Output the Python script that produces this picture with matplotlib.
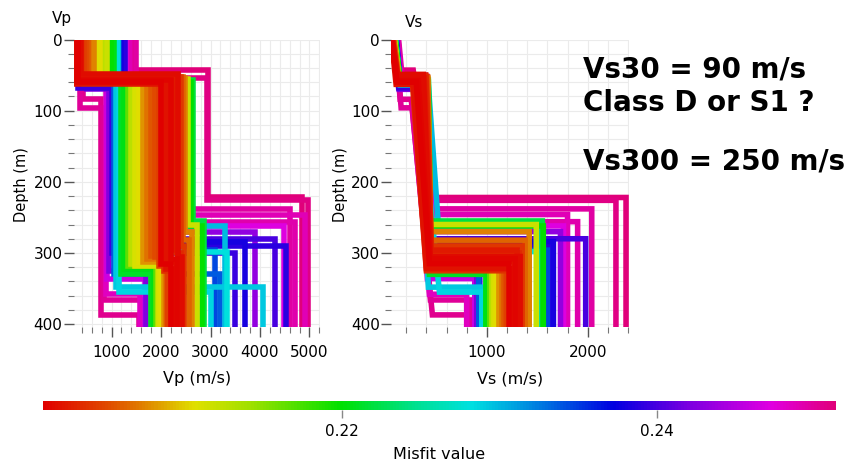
import numpy as np
import matplotlib.pyplot as plt
import matplotlib as mpl
from matplotlib.colors import LinearSegmentedColormap, Normalize
from matplotlib.ticker import MultipleLocator, FixedLocator

# one entry per inverted ground model (layer 1 / layer 2 / half-space)
misfit = [0.2514, 0.2510, 0.2506, 0.2502, 0.2498, 0.2494, 0.2490, 0.2486,
          0.2472, 0.2462, 0.2432, 0.2422, 0.2400, 0.2394, 0.2388, 0.2382,
          0.2345, 0.2338, 0.2298, 0.2292, 0.2286, 0.2280,
          0.2220, 0.2212, 0.2205, 0.2198, 0.2165,
          0.2128, 0.2120, 0.2112, 0.2105,
          0.2080, 0.2074, 0.2068, 0.2062, 0.2056, 0.2050,
          0.2044, 0.2040, 0.2036, 0.2032, 0.2028, 0.2024, 0.2020, 0.2016, 0.2013, 0.2011]
d1 = [43, 54, 84, 96, 52, 50, 57, 64,
      58, 66, 60, 70, 56, 68, 59, 62,
      61, 62, 64, 60, 61, 60,
      57, 59, 58, 60, 57,
      56, 55, 57, 56,
      55, 54, 56, 53, 55, 56,
      55, 52, 58, 50, 61, 54, 63, 49, 57, 60]
d2 = [222, 226, 387, 366, 238, 256, 246, 358,
      262, 336, 270, 326, 280, 300, 290, 284,
      296, 330, 262, 348, 355, 298,
      255, 330, 322, 262, 318,
      315, 260, 318, 312,
      312, 270, 308, 282, 304, 306,
      318, 290, 325, 300, 312, 296, 322, 305, 308, 315]
vp1 = [1450, 1400, 420, 360, 1500, 1380, 1350, 380,
       1300, 460, 1250, 500, 1200, 330, 1280, 1180,
       1150, 450, 1100, 380, 520, 1120,
       1000, 950, 1050, 980, 850,
       800, 900, 720, 760,
       600, 650, 550, 500, 520, 480,
       450, 400, 350, 300, 280, 330, 260, 380, 300, 320]
vp2 = [2950, 2920, 780, 840, 2300, 2350, 2250, 880,
       2200, 900, 2280, 940, 2320, 1000, 2260, 2240,
       2240, 1050, 2200, 1080, 1140, 2260,
       2640, 1200, 1260, 2600, 1330,
       1400, 2540, 1480, 1560,
       1640, 2480, 1720, 2440, 1800, 1880,
       1950, 2400, 2050, 2300, 2150, 2250, 2100, 2350, 2200, 2000]
vp3 = [4850, 4980, 1550, 1620, 4600, 4700, 4920, 1580,
       4480, 1680, 3900, 1700, 4300, 3500, 4520, 3700,
       3100, 3200, 3300, 4060, 3000, 3330,
       2860, 1800, 1850, 2820, 1900,
       1930, 2720, 1960, 2000,
       2050, 2620, 2100, 2560, 2120, 2150,
       2150, 2460, 2200, 2400, 2300, 2350, 2250, 2420, 2320, 2200]
vs0 = [120, 115, 95, 100, 125, 118, 110, 90,
       105, 85, 100, 85, 105, 80, 100, 95,
       95, 85, 95, 85, 90, 95,
       90, 90, 92, 90, 85,
       80, 85, 78, 80,
       75, 78, 72, 75, 72, 70,
       65, 60, 58, 55, 58, 62, 55, 65, 58, 60]
vs1 = [140, 150, 140, 150, 160, 150, 145, 135,
       145, 130, 140, 130, 140, 125, 140, 135,
       135, 130, 140, 130, 135, 140,
       140, 135, 138, 138, 130,
       128, 132, 128, 126,
       125, 128, 122, 125, 120, 120,
       115, 110, 110, 105, 110, 112, 100, 115, 105, 108]
vs2 = [270, 400, 250, 260, 410, 390, 380, 300,
       370, 290, 360, 300, 380, 320, 370, 360,
       360, 330, 420, 300, 320, 380,
       420, 330, 340, 420, 340,
       330, 415, 350, 355,
       360, 410, 370, 415, 375, 365,
       300, 400, 260, 395, 280, 380, 270, 370, 320, 300]
vs2b = [440, 460, 460, 440, 470, 460, 470, 430,
        460, 410, 450, 420, 455, 420, 450, 445,
        445, 430, 520, 420, 530, 450,
        440, 430, 430, 440, 432,
        430, 440, 435, 435,
        435, 440, 440, 445, 440, 438,
        425, 450, 400, 450, 420, 445, 400, 440, 435, 430]
vs3 = [2380, 2280, 820, 850, 2040, 1900, 1800, 800,
       1760, 880, 1730, 900, 1980, 930, 1620, 1660,
       1600, 920, 1520, 960, 950, 1530,
       1550, 1000, 990, 1560, 1030,
       1050, 1490, 1070, 1090,
       1120, 1420, 1150, 1380, 1170, 1190,
       1200, 1350, 1230, 1320, 1270, 1300, 1250, 1330, 1280, 1220]

zbot = 410

cmap = LinearSegmentedColormap.from_list('misfit', [
    (0.00, '#e00000'), (0.08, '#e04a00'), (0.12, '#e07a00'), (0.19, '#e0e000'),
    (0.26, '#a0e000'), (0.375, '#00e000'), (0.47, '#00e090'), (0.54, '#00e0e0'),
    (0.61, '#0090e0'), (0.72, '#0000e0'), (0.82, '#8000e0'), (0.92, '#e000e0'),
    (1.00, '#e0007a')])
norm = Normalize(vmin=0.2010, vmax=0.2514)

fig = plt.figure(figsize=(8.51, 4.66), dpi=100)
ax_vp = fig.add_axes([0.0864, 0.2983, 0.2897, 0.6169])
ax_vs = fig.add_axes([0.4595, 0.2983, 0.2797, 0.6169])
cax = fig.add_axes([0.0505, 0.1202, 0.9318, 0.0193])

# worst models first so the best ones end up on top
order = np.argsort(misfit)[::-1]
for i in order:
    c = cmap(norm(misfit[i]))
    ax_vp.plot([vp1[i], vp1[i], vp2[i], vp2[i], vp3[i], vp3[i]],
               [0, d1[i], d1[i], d2[i], d2[i], zbot],
               color=c, lw=4, solid_joinstyle='miter', solid_capstyle='butt')
    ax_vs.plot([vs0[i], vs1[i], vs2[i], vs2b[i], vs3[i], vs3[i]],
               [0, d1[i], d1[i], d2[i], d2[i], zbot],
               color=c, lw=4, solid_joinstyle='miter', solid_capstyle='butt')

for ax in (ax_vp, ax_vs):
    ax.set_ylim(404, 0)
    ax.yaxis.set_major_locator(MultipleLocator(100))
    ax.yaxis.set_minor_locator(MultipleLocator(20))
    ax.xaxis.set_minor_locator(MultipleLocator(200))
    ax.grid(which='both', color='#ebebeb', lw=0.8)
    ax.set_axisbelow(True)
    for s in ax.spines.values():
        s.set_visible(False)
    ax.tick_params(which='major', direction='out', length=7, width=1,
                   color='#555555', labelsize=11, pad=1)
    ax.tick_params(which='minor', direction='out', length=4, width=0.8,
                   color='#777777')
    ax.tick_params(axis='x', pad=6)

ax_vp.set_xlim(230, 5215)
ax_vp.xaxis.set_major_locator(FixedLocator([1000, 2000, 3000, 4000, 5000]))
ax_vs.set_xlim(50, 2410)
ax_vs.xaxis.set_major_locator(FixedLocator([1000, 2000]))

ax_vp.set_xlabel('Vp (m/s)', fontsize=11.5, labelpad=8)
ax_vs.set_xlabel('Vs (m/s)', fontsize=11.5, labelpad=8)
fig.text(22 / 851, 1 - 185 / 466, 'Depth (m)', rotation=90, ha='center', va='center', fontsize=10.5)
fig.text(340 / 851, 1 - 185 / 466, 'Depth (m)', rotation=90, ha='center', va='center', fontsize=10.5)
fig.text(52 / 851, 1 - 23 / 466, 'Vp', ha='left', va='baseline', fontsize=11)
fig.text(405 / 851, 1 - 27 / 466, 'Vs', ha='left', va='baseline', fontsize=11)

fig.text(583 / 851, 1 - 77 / 466, 'Vs30 = 90 m/s', fontsize=20, fontweight='bold', va='baseline')
fig.text(583 / 851, 1 - 111 / 466, 'Class D or S1 ?', fontsize=20, fontweight='bold', va='baseline')
fig.text(583 / 851, 1 - 169 / 466, 'Vs300 = 250 m/s', fontsize=20, fontweight='bold', va='baseline')

cb = mpl.colorbar.ColorbarBase(cax, cmap=cmap, norm=norm, orientation='horizontal')
cb.outline.set_visible(False)
cb.set_ticks([0.22, 0.24])
cb.set_ticklabels(['0.22', '0.24'])
cax.tick_params(length=6, width=1, color='#888888', labelsize=11, pad=4)
cb.set_label('Misfit value', fontsize=11.5, labelpad=6)

fig.savefig('out.png', dpi=100)
